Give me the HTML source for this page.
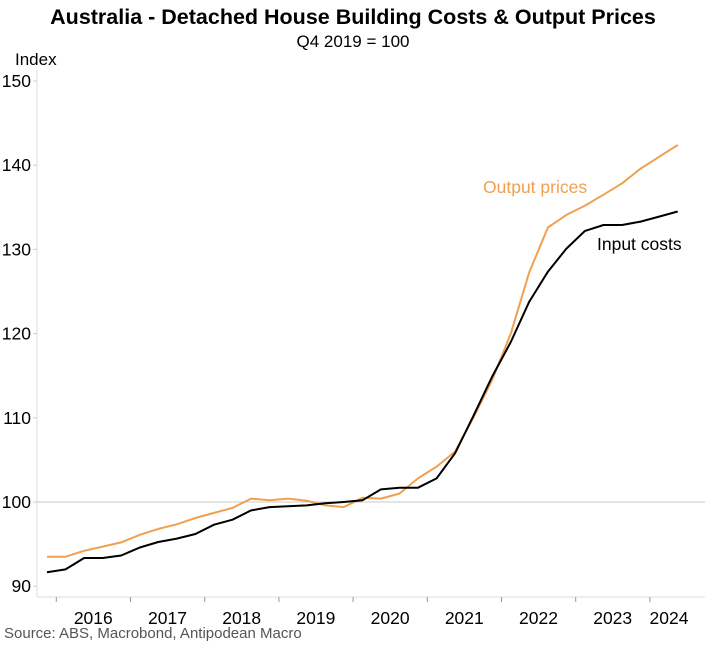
<!DOCTYPE html>
<html><head><meta charset="utf-8"><style>
body{margin:0;background:#fff;width:707px;height:643px;overflow:hidden;font-family:"Liberation Sans",Arial,sans-serif}
</style></head><body>
<svg width="707" height="643" id="c" font-family="Liberation Sans, Arial, sans-serif">
<text x="353" y="24" text-anchor="middle" font-size="21.5" font-weight="bold" fill="#000">Australia - Detached House Building Costs &amp; Output Prices</text>
<text x="353" y="47" text-anchor="middle" font-size="17" fill="#000">Q4 2019 = 100</text>
<text x="15" y="65" font-size="17" fill="#000">Index</text>
<line x1="37" y1="70" x2="37" y2="597" stroke="#ddd"/>
<line x1="37" y1="597" x2="705" y2="597" stroke="#ddd"/>
<g id="yax"></g><g id="xax"></g><g id="lines"></g>
<text x="483" y="193" font-size="17.5" fill="#f0a050">Output prices</text>
<text x="597" y="250" font-size="17.5" fill="#000">Input costs</text>
<text x="4" y="638" font-size="15" fill="#555">Source: ABS, Macrobond, Antipodean Macro</text>
</svg>
<script>
const yTicks=[90,100,110,120,130,140,150];
const years=["2016","2017","2018","2019","2020","2021","2022","2023","2024"];
const outputPrices=[93.5,93.5,94.2,94.7,95.2,96.1,96.8,97.35,98.1,98.7,99.3,100.4,100.2,100.4,100.15,99.6,99.4,100.5,100.4,101.0,102.8,104.2,106.0,110.1,114.5,120.0,127.3,132.6,134.1,135.2,136.5,137.85,139.6,141.0,142.4];
const inputCosts=[91.65,92.0,93.35,93.35,93.65,94.6,95.25,95.65,96.2,97.3,97.9,99.0,99.4,99.5,99.6,99.85,100.0,100.2,101.5,101.7,101.7,102.8,105.8,110.3,114.9,119.0,123.8,127.35,130.1,132.2,132.9,132.9,133.3,133.9,134.5];
const NS="http://www.w3.org/2000/svg";
const y=v=>502-(v-100)*8.42;
const x=i=>47+i*18.55;
const yearX=k=>56.3+k*74.2;
const yax=document.getElementById('yax'),xax=document.getElementById('xax'),lg=document.getElementById('lines');
function mk(tag,attrs,parent){const e=document.createElementNS(NS,tag);for(const a in attrs)e.setAttribute(a,attrs[a]);parent.appendChild(e);return e;}
yTicks.forEach(v=>{
  const t=mk('text',{x:31,y:y(v)+6,'text-anchor':'end','font-size':17.5,fill:'#000'},yax);
  t.textContent=v;
  
  
  const l=mk('line',{x1:33,x2:37,y1:y(v),y2:y(v),stroke:'#ccc'},yax);
  
  
});
const g=mk('line',{x1:37,x2:705,y1:y(100),y2:y(100),stroke:'#c8c8c8'},yax);


years.forEach((yr,k)=>{
  const l=mk('line',{x1:yearX(k),x2:yearX(k),y1:597,y2:602,stroke:'#999'},xax);
  
  
  const cx=k<8?yearX(k)+37:669;
  const t=mk('text',{x:cx,y:624,'text-anchor':'middle','font-size':17.5,fill:'#000'},xax);
  t.textContent=yr;
  
  
});
function pts(arr,off){return arr.map((v,i)=>x(i+off).toFixed(1)+','+y(v).toFixed(1)).join(' ');}
const po=mk('polyline',{points:pts(outputPrices,0),fill:'none',stroke:'#f0a050','stroke-width':2,'stroke-linejoin':'round'},lg);


const pi=mk('polyline',{points:pts(inputCosts,0),fill:'none',stroke:'#000','stroke-width':2,'stroke-linejoin':'round'},lg);


</script>
</body></html>
